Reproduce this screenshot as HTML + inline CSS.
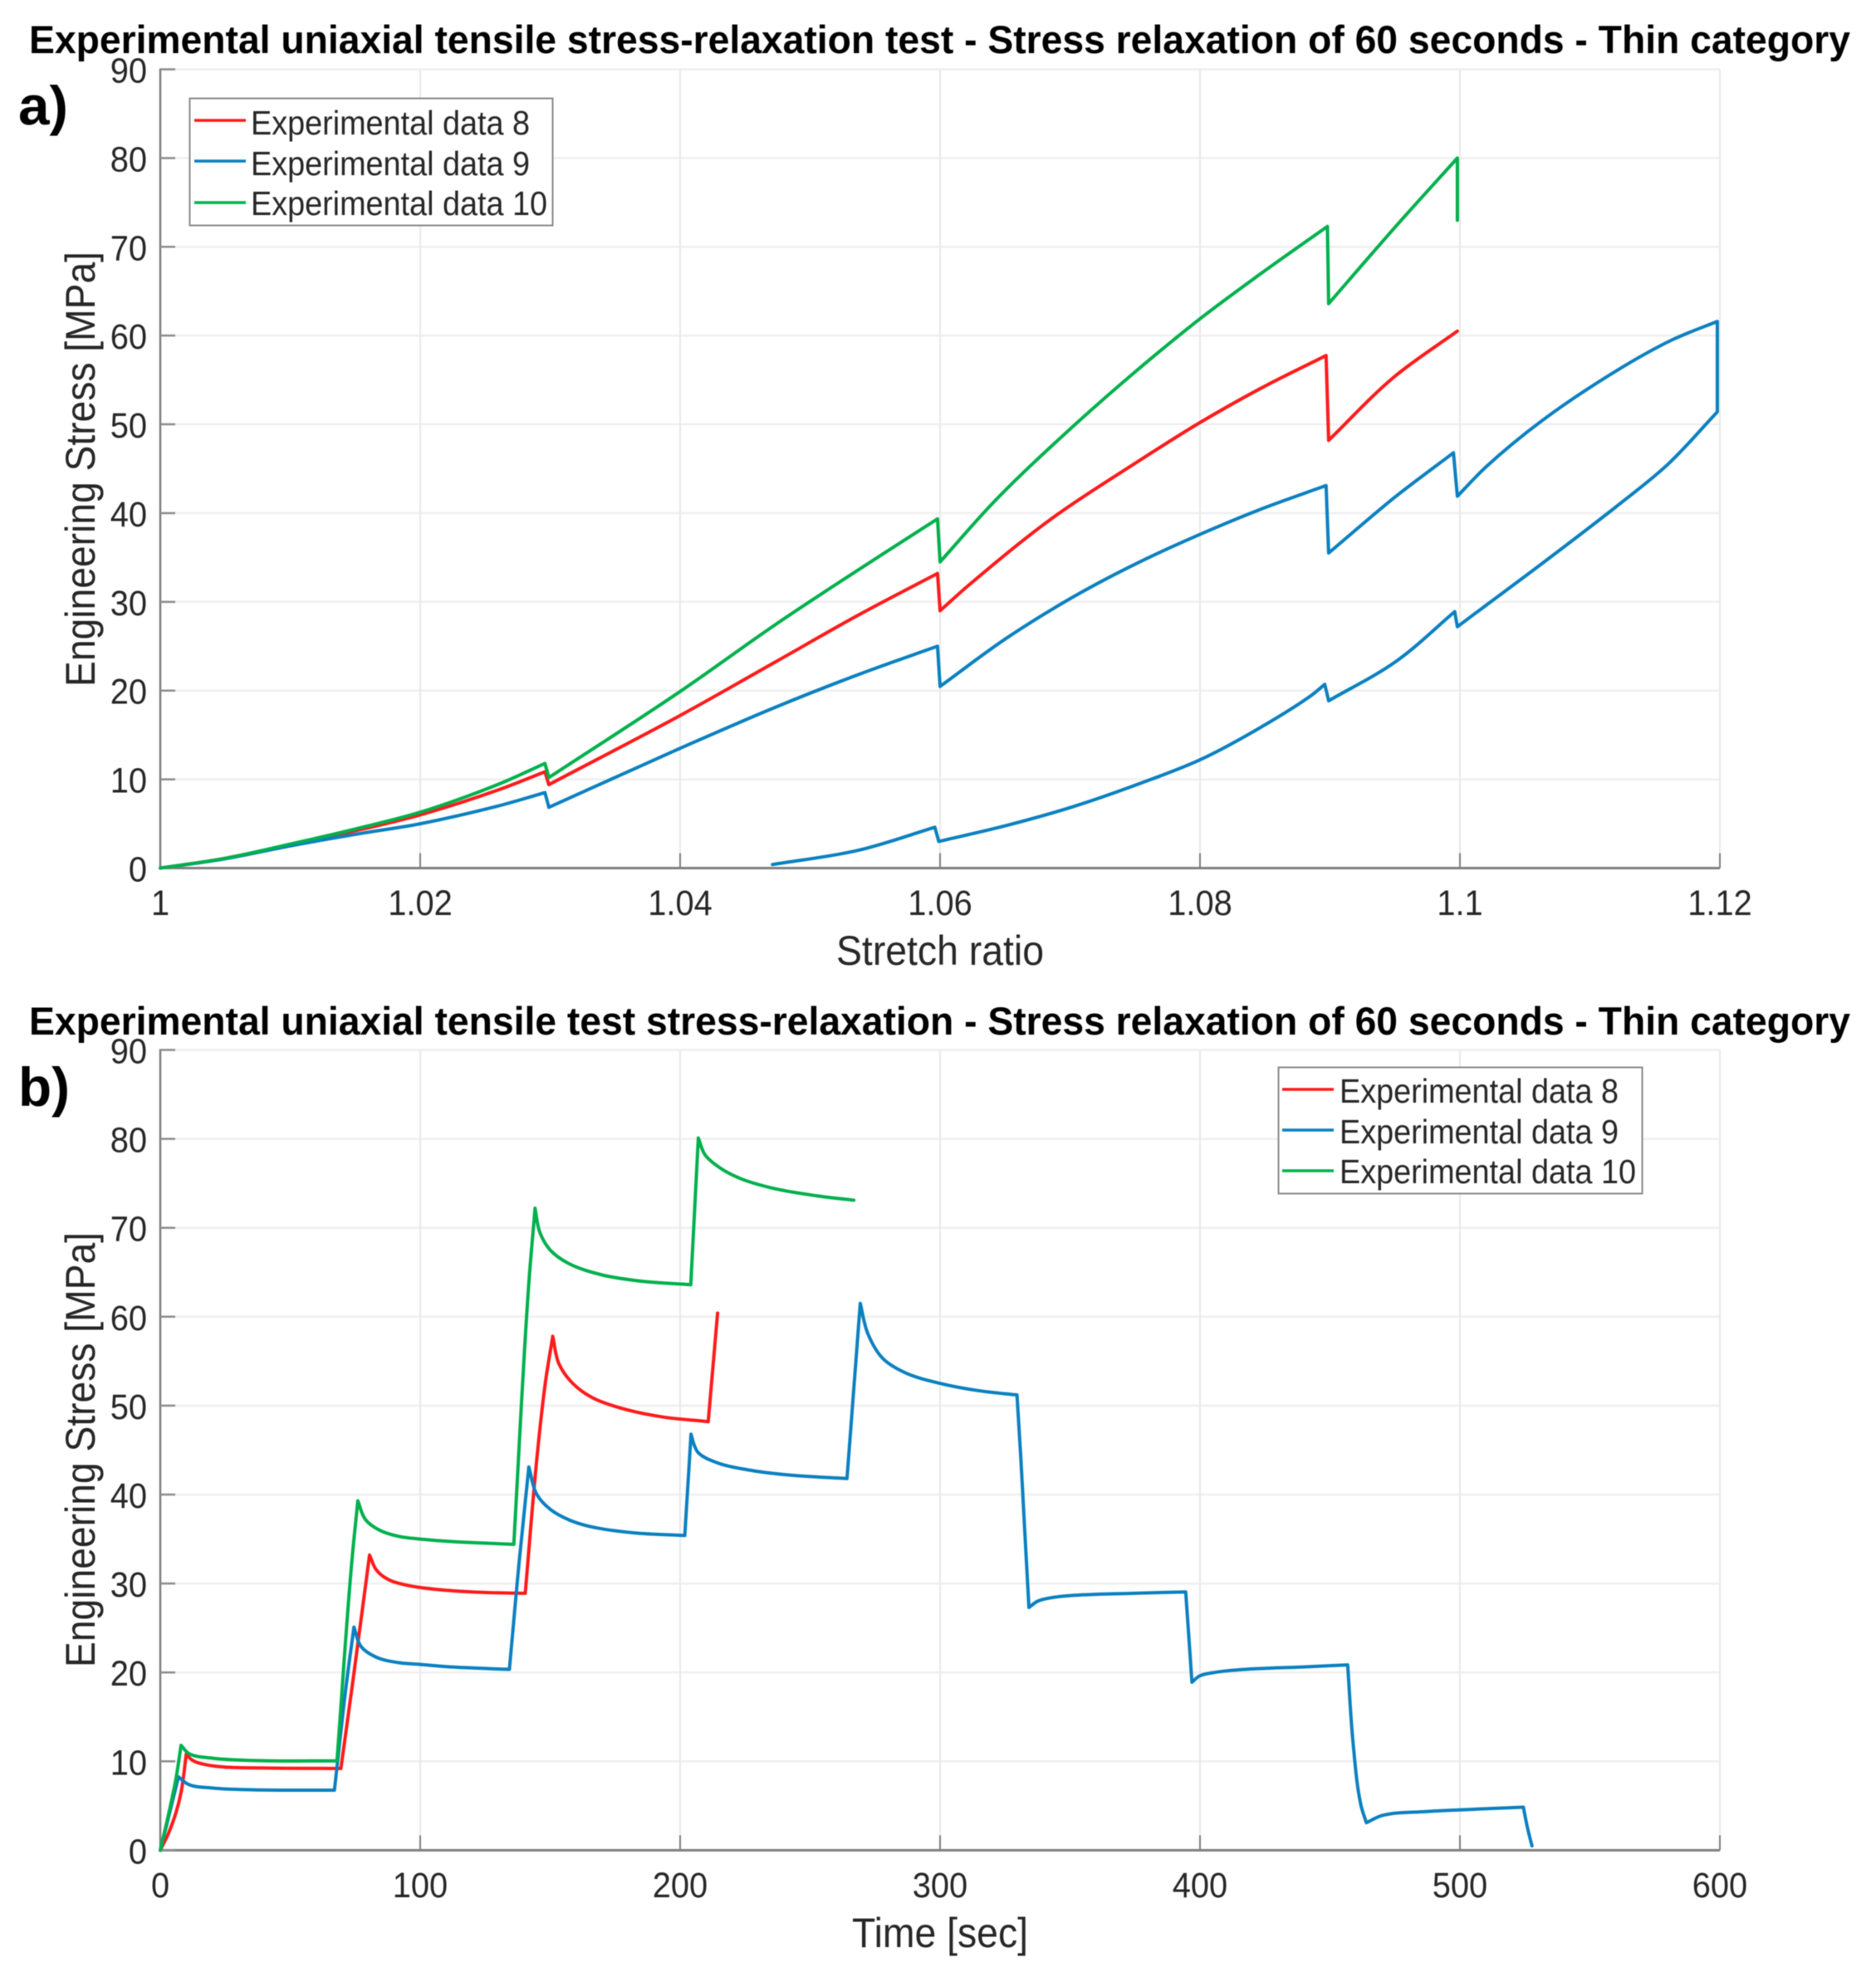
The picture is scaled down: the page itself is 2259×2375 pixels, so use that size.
<!DOCTYPE html>
<html lang="en">
<head>
<meta charset="utf-8">
<title>Experimental uniaxial tensile stress-relaxation test</title>
<style>
html,body{margin:0;padding:0;background:#fff;}
svg{display:block;font-family:"Liberation Sans",Arial,sans-serif;filter:blur(0.6px);}
.tick{font-size:43px;fill:#262626;}
.axis-title{font-size:50px;fill:#262626;text-anchor:middle;}
.main-title{font-size:47px;font-weight:bold;fill:#000;}
.panel{font-size:66px;font-weight:bold;fill:#000;}
.leg{font-size:41px;fill:#262626;}
</style>
</head>
<body>
<svg id="figure" xmlns="http://www.w3.org/2000/svg" width="2259" height="2375" viewBox="0 0 2259 2375">
  <rect x="0" y="0" width="2259" height="2375" fill="#ffffff"/>
  <g id="panel-a"></g>
  <g id="panel-b"></g>

  <text class="main-title" x="35" y="64" textLength="2193" lengthAdjust="spacingAndGlyphs">Experimental uniaxial tensile stress-relaxation test - Stress relaxation of 60 seconds - Thin category</text>
  <text class="panel" x="22" y="150" textLength="60" lengthAdjust="spacingAndGlyphs">a)</text>
  <text class="axis-title" x="1132" y="1162" textLength="250" lengthAdjust="spacingAndGlyphs">Stretch ratio</text>
  <text class="axis-title" transform="translate(114 565) rotate(-90)" textLength="524" lengthAdjust="spacingAndGlyphs">Engineering Stress [MPa]</text>

  <g>
    <rect x="228.5" y="118.5" width="437" height="153" fill="#fff" stroke="#8a8a8a" stroke-width="2"/>
    <line x1="234" x2="296" y1="145" y2="145" stroke="#ff1a1a" stroke-width="3.5"/>
    <text class="leg" x="302" y="162" textLength="336" lengthAdjust="spacingAndGlyphs">Experimental data 8</text>
    <line x1="234" x2="296" y1="194" y2="194" stroke="#0a80c0" stroke-width="3.5"/>
    <text class="leg" x="302" y="211" textLength="336" lengthAdjust="spacingAndGlyphs">Experimental data 9</text>
    <line x1="234" x2="296" y1="244" y2="244" stroke="#00b04c" stroke-width="3.5"/>
    <text class="leg" x="302" y="259" textLength="357" lengthAdjust="spacingAndGlyphs">Experimental data 10</text>
  </g>

  <text class="main-title" x="35" y="1246" textLength="2193" lengthAdjust="spacingAndGlyphs">Experimental uniaxial tensile test stress-relaxation - Stress relaxation of 60 seconds - Thin category</text>
  <text class="panel" x="22" y="1332" textLength="62" lengthAdjust="spacingAndGlyphs">b)</text>
  <text class="axis-title" x="1132" y="2345" textLength="212" lengthAdjust="spacingAndGlyphs">Time [sec]</text>
  <text class="axis-title" transform="translate(114 1746) rotate(-90)" textLength="524" lengthAdjust="spacingAndGlyphs">Engineering Stress [MPa]</text>

  <g>
    <rect x="1539.5" y="1285.5" width="438" height="152" fill="#fff" stroke="#8a8a8a" stroke-width="2"/>
    <line x1="1544" x2="1606" y1="1312" y2="1312" stroke="#ff1a1a" stroke-width="3.5"/>
    <text class="leg" x="1613" y="1328" textLength="336" lengthAdjust="spacingAndGlyphs">Experimental data 8</text>
    <line x1="1544" x2="1606" y1="1361" y2="1361" stroke="#0a80c0" stroke-width="3.5"/>
    <text class="leg" x="1613" y="1377" textLength="336" lengthAdjust="spacingAndGlyphs">Experimental data 9</text>
    <line x1="1544" x2="1606" y1="1410" y2="1410" stroke="#00b04c" stroke-width="3.5"/>
    <text class="leg" x="1613" y="1425" textLength="357" lengthAdjust="spacingAndGlyphs">Experimental data 10</text>
  </g>
</svg>

<script>
// ---- shared tick values
const stressTicks = [0, 10, 20, 30, 40, 50, 60, 70, 80, 90];
const stretchTicks = [1, 1.02, 1.04, 1.06, 1.08, 1.1, 1.12];
const timeTicks = [0, 100, 200, 300, 400, 500, 600];

// ---- panel a: stress vs stretch ratio
const stretch8 = [1, 1.005, 1.01, 1.015, 1.02, 1.026, 1.0296, 1.0299, 1.04, 1.0473, 1.0537, 1.0598, 1.06, 1.0623, 1.0686, 1.075, 1.08, 1.0846, 1.0897, 1.0899, 1.0949, 1.0998];
const stress8 = [0, 1.1, 2.65, 4.2, 6.0, 8.8, 10.85, 9.4, 17.2, 23.2, 28.5, 33.2, 29.0, 32.0, 39.4, 45.6, 50.2, 54.0, 57.75, 48.2, 55.3, 60.5];

const stretch9 = [1, 1.005, 1.01, 1.015, 1.02, 1.026, 1.0296, 1.0299, 1.04, 1.0473, 1.0537, 1.0598, 1.06, 1.0651, 1.0703, 1.0755, 1.08, 1.0846, 1.0897, 1.0899, 1.095, 1.0995, 1.0998, 1.102, 1.1063, 1.112, 1.1163, 1.1198, 1.1198, 1.116, 1.112, 1.1063, 1.102, 1.0998, 1.0996, 1.0951, 1.0899, 1.0896, 1.0886, 1.0846, 1.08, 1.0755, 1.0703, 1.0651, 1.0599, 1.0596, 1.0537, 1.0471];
const stress9 = [0, 1.05, 2.5, 3.8, 5.0, 7.0, 8.5, 6.85, 13.5, 18.1, 21.8, 25.0, 20.47, 25.9, 30.6, 34.6, 37.6, 40.4, 43.1, 35.5, 41.8, 46.8, 41.9, 45.2, 50.4, 56.0, 59.5, 61.6, 51.4, 45.5, 40.7, 34.3, 29.6, 27.2, 28.9, 23.3, 18.85, 20.7, 19.5, 15.8, 12.2, 9.6, 6.95, 4.8, 3.0, 4.6, 2.0, 0.4];

const stretch10 = [1, 1.005, 1.01, 1.015, 1.02, 1.026, 1.0296, 1.0299, 1.04, 1.0473, 1.0537, 1.0598, 1.06, 1.0643, 1.0701, 1.075, 1.08, 1.0846, 1.0898, 1.0899, 1.095, 1.0998, 1.0998];
const stress10 = [0, 1.1, 2.7, 4.4, 6.3, 9.44, 11.8, 10.2, 19.9, 27.4, 33.6, 39.35, 34.5, 41.5, 49.6, 55.9, 61.9, 66.9, 72.3, 63.6, 72.2, 80.0, 73.0];

// ---- panel b: stress vs time
const time8 = [0, 3, 6, 8, 10, 12, 14.9, 23.1, 39.4, 69.5, 74.1, 80.5, 83.2, 87.4, 94.9, 107.7, 123.6, 140.4, 144.9, 148.1, 151, 153.4, 158.7, 166.2, 176.8, 192.8, 210.8, 214.4];
const relax8 = [0, 1.8, 4.2, 6.5, 10.8, 10.2, 9.8, 9.4, 9.25, 9.2, 19.0, 33.2, 31.5, 30.5, 29.8, 29.3, 29.0, 28.9, 44.1, 52.5, 57.8, 54.7, 52.5, 50.9, 49.75, 48.75, 48.2, 60.4];

const time9 = [0, 3, 7, 10.9, 19.9, 36, 67, 71.5, 74.5, 77.3, 83.2, 91.7, 100, 113, 134.3, 138, 141.8, 144.9, 150.2, 157.7, 166.2, 182.1, 201.8, 204.2, 205.5, 207, 214, 225.6, 241.7, 264.2, 269.3, 272.2, 278, 286.6, 300, 314.4, 329.6, 331, 332.3, 334.2, 337.5, 342.8, 353.5, 374.8, 394.5, 396.9, 399.8, 405.6, 417.4, 438.7, 456.8, 458.9, 461.9, 464, 470, 487, 500, 524.4, 526, 527.7];
const relax9 = [0, 3.5, 8.25, 7.4, 7.0, 6.8, 6.76, 18.5, 25.1, 22.9, 21.7, 21.1, 20.9, 20.6, 20.35, 32.2, 43.1, 40.0, 38.3, 37.1, 36.35, 35.7, 35.4, 46.8, 45.5, 44.7, 43.6, 42.8, 42.2, 41.8, 61.5, 58.1, 55.3, 53.7, 52.5, 51.7, 51.2, 44.5, 37.4, 27.3, 28.0, 28.4, 28.7, 28.9, 29.05, 18.9, 19.6, 20.0, 20.35, 20.6, 20.85, 12.0, 5.1, 3.1, 3.9, 4.35, 4.55, 4.85, 2.5, 0.5];

const time10 = [0, 3, 6, 8, 10.9, 19.9, 35.6, 68, 73.6, 76, 78.9, 84.3, 91.7, 100, 113, 136, 141.7, 144.2, 146, 150, 157, 170, 185, 204.1, 207, 209.6, 215, 223.5, 236.4, 252.4, 266.8];
const relax10 = [0, 3.8, 8.0, 11.8, 10.9, 10.36, 10.1, 10.05, 32.2, 39.3, 37.2, 36.0, 35.3, 35.0, 34.7, 34.4, 63.4, 72.2, 69.5, 67.5, 66.0, 64.7, 64.0, 63.6, 80.1, 78.2, 76.8, 75.5, 74.4, 73.6, 73.1];

const RED = '#ff1a1a', BLUE = '#0a80c0', GREEN = '#00b04c';
const NS = 'http://www.w3.org/2000/svg';

function make(tag, parent, props, text) {
  const el = document.createElementNS(NS, tag);
  for (const k in props) el.setAttribute(k, props[k]);
  if (text !== undefined) el.textContent = text;
  parent.appendChild(el);
  return el;
}

// Narrow a tick label to match the tall, slightly condensed lettering of the figure.
function condense(el) {
  const w = el.getComputedTextLength();
  el.setAttribute('textLength', (w * 0.925).toFixed(1));
  el.setAttribute('lengthAdjust', 'spacingAndGlyphs');
}

// Smooth path through the points, keeping sharp corners at relaxation jumps.
function smoothPath(pts) {
  const n = pts.length;
  const unit = (a, b) => {
    const dx = b[0] - a[0], dy = b[1] - a[1], l = Math.hypot(dx, dy) || 1;
    return [dx / l, dy / l];
  };
  let d = 'M' + pts[0][0].toFixed(1) + ' ' + pts[0][1].toFixed(1);
  const tangent = (i, seg) => {
    if (i === 0 || i === n - 1) return seg;
    const a = unit(pts[i - 1], pts[i]), b = unit(pts[i], pts[i + 1]);
    const cos = a[0] * b[0] + a[1] * b[1];
    if (cos < 0.78) return seg; // corner
    const m = [a[0] + b[0], a[1] + b[1]], l = Math.hypot(m[0], m[1]) || 1;
    return [m[0] / l, m[1] / l];
  };
  for (let i = 0; i < n - 1; i++) {
    const seg = unit(pts[i], pts[i + 1]);
    const len = Math.hypot(pts[i + 1][0] - pts[i][0], pts[i + 1][1] - pts[i][1]);
    const t0 = tangent(i, seg), t1 = tangent(i + 1, seg);
    const c1 = [pts[i][0] + t0[0] * len / 3, pts[i][1] + t0[1] * len / 3];
    const c2 = [pts[i + 1][0] - t1[0] * len / 3, pts[i + 1][1] - t1[1] * len / 3];
    d += ' C' + c1[0].toFixed(1) + ' ' + c1[1].toFixed(1) + ' ' + c2[0].toFixed(1) + ' ' + c2[1].toFixed(1) + ' ' + pts[i + 1][0].toFixed(1) + ' ' + pts[i + 1][1].toFixed(1);
  }
  return d;
}

function drawChart(host, xDomain, xTicks, xBaseline, yTop, yZero, series) {
  const left = 193, right = 2071;
  const xScale = v => left + (v - xDomain[0]) / (xDomain[1] - xDomain[0]) * (right - left);
  const yScale = v => yZero - v / 90 * (yZero - yTop);

  // grid
  stressTicks.forEach(v => {
    if (v === 0) return;
    const g = make('line', host, {x1: left, x2: right, y1: yScale(v), y2: yScale(v), stroke: '#efefef', 'stroke-width': 2.5});
    
    
  });
  xTicks.forEach((v, i) => {
    if (i === 0) return;
    const g = make('line', host, {x1: xScale(v), x2: xScale(v), y1: yTop, y2: yZero, stroke: '#e8e8e8', 'stroke-width': 2});
    
    
  });

  // axes
  const yAxis = make('line', host, {x1: left, x2: left, y1: yTop - 1, y2: yZero + 1.5, stroke: '#7f7f7f', 'stroke-width': 2.5});
  
  
  const xAxis = make('line', host, {x1: left, x2: right, y1: yZero, y2: yZero, stroke: '#7f7f7f', 'stroke-width': 3});
  
  

  // ticks + labels
  stressTicks.forEach(v => {
    const t = make('line', host, {x1: left, x2: left + 18, y1: yScale(v), y2: yScale(v), stroke: '#8c8c8c', 'stroke-width': 2.5});
    
    
    const l = make('text', host, {x: 177, y: yScale(v) + 16, 'text-anchor': 'end', class: 'tick'}, String(v));
    
    
    condense(l);
  });
  xTicks.forEach((v, i) => {
    if (i > 0) {
      const t = make('line', host, {x1: xScale(v), x2: xScale(v), y1: yZero - 18, y2: yZero, stroke: '#7f7f7f', 'stroke-width': 2});
      
      
    }
    const l = make('text', host, {x: xScale(v), y: xBaseline, 'text-anchor': 'middle', class: 'tick'}, String(v));
    
    
    condense(l);
  });

  // series
  series.forEach(s => {
    const pts = s.x.map((xv, i) => [xScale(xv), yScale(s.y[i])]);
    const p = make('path', host, {d: smoothPath(pts), fill: 'none', stroke: s.color, 'stroke-width': 4, 'stroke-linejoin': 'round', 'stroke-linecap': 'round'});
    
    
  });
}

drawChart(document.getElementById('panel-a'), [1, 1.12], stretchTicks, 1102, 83.5, 1045.5, [
  {x: stretch8, y: stress8, color: RED, name: 'series-experimental-data-8'},
  {x: stretch9, y: stress9, color: BLUE, name: 'series-experimental-data-9'},
  {x: stretch10, y: stress10, color: GREEN, name: 'series-experimental-data-10'}
]);

drawChart(document.getElementById('panel-b'), [0, 600], timeTicks, 2285, 1264.5, 2228.4, [
  {x: time8, y: relax8, color: RED, name: 'series-experimental-data-8'},
  {x: time9, y: relax9, color: BLUE, name: 'series-experimental-data-9'},
  {x: time10, y: relax10, color: GREEN, name: 'series-experimental-data-10'}
]);
</script>
</body>
</html>
